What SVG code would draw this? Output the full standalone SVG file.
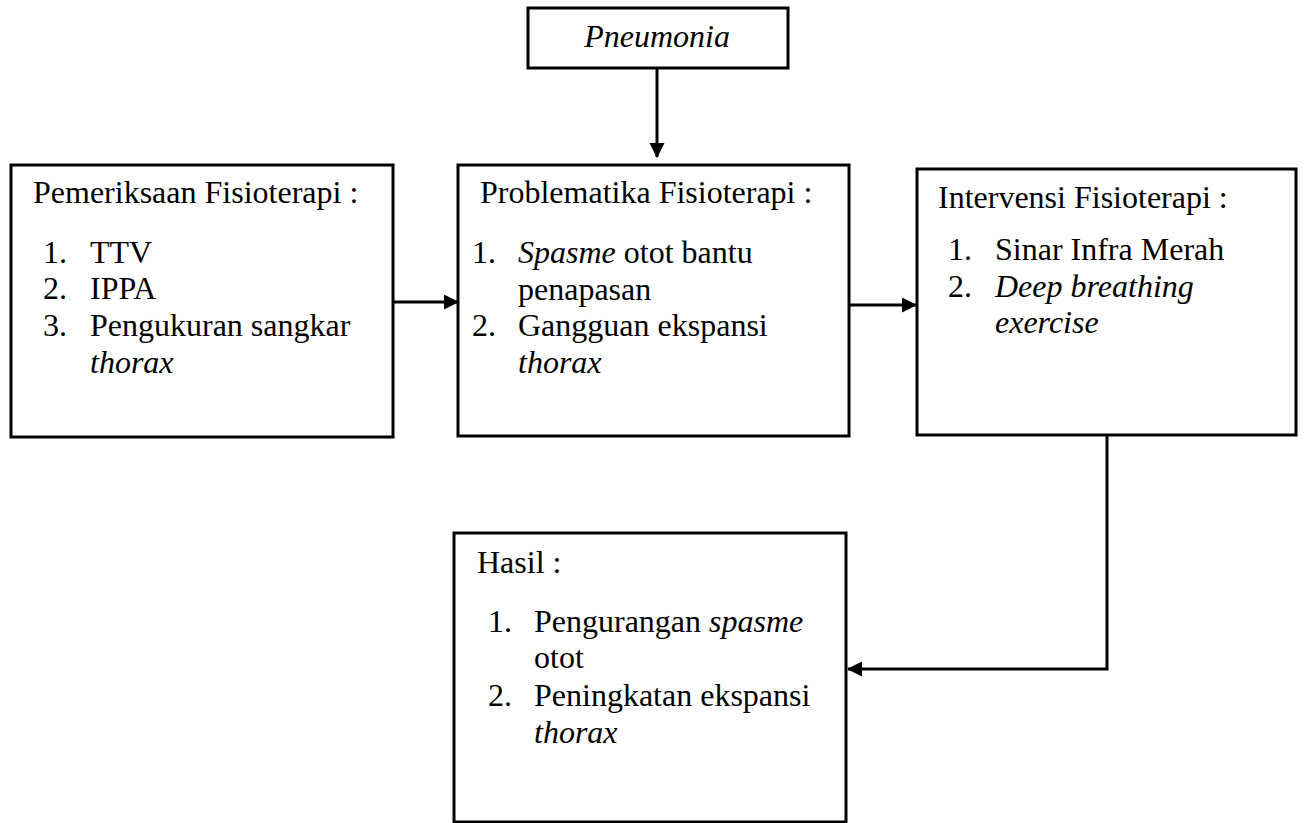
<svg xmlns="http://www.w3.org/2000/svg" width="1304" height="823" viewBox="0 0 1304 823">
<style>
.box{fill:#fff;stroke:#000;stroke-width:3}
.t{font-family:"Liberation Serif","Times New Roman",serif;font-size:32px;fill:#000}
.i{font-style:italic}
.c{fill:none;stroke:#000;stroke-width:3}
</style>
<defs>
<marker id="ah" markerUnits="userSpaceOnUse" markerWidth="16" markerHeight="16" refX="14" refY="7.5" orient="auto">
<path d="M0,0 L15,7.5 L0,15 Z" fill="#000"/>
</marker>
</defs>
<rect width="1304" height="823" fill="#fff"/>
<g id="connectors">
<line class="c" x1="657" y1="68" x2="657" y2="157" marker-end="url(#ah)"/>
<line class="c" x1="393" y1="302" x2="458" y2="302" marker-end="url(#ah)"/>
<line class="c" x1="849" y1="305" x2="916" y2="305" marker-end="url(#ah)"/>
<polyline class="c" points="1107,435 1107,669 848,669" marker-end="url(#ah)"/>
</g>
<g id="pneumonia">
<rect class="box" x="528" y="8" width="260" height="60"/>
<text class="t i" x="657" y="47" text-anchor="middle">Pneumonia</text>
</g>
<g id="pemeriksaan">
<rect class="box" x="11" y="165" width="382" height="272"/>
<text class="t" x="33" y="203">Pemeriksaan Fisioterapi :</text>
<text class="t" x="43" y="263">1.</text><text class="t" x="90" y="263">TTV</text>
<text class="t" x="43" y="299">2.</text><text class="t" x="90" y="299">IPPA</text>
<text class="t" x="43" y="336">3.</text><text class="t" x="90" y="336">Pengukuran sangkar</text>
<text class="t i" x="90" y="373">thorax</text>
</g>
<g id="problematika">
<rect class="box" x="458" y="165" width="391" height="271"/>
<text class="t" x="480" y="203">Problematika Fisioterapi :</text>
<text class="t" x="472" y="263">1.</text><text class="t" x="518" y="263"><tspan class="i">Spasme</tspan> otot bantu</text>
<text class="t" x="518" y="300">penapasan</text>
<text class="t" x="472" y="336">2.</text><text class="t" x="518" y="336">Gangguan ekspansi</text>
<text class="t i" x="518" y="373">thorax</text>
</g>
<g id="intervensi">
<rect class="box" x="917" y="169" width="379" height="266"/>
<text class="t" x="938" y="208">Intervensi Fisioterapi :</text>
<text class="t" x="948" y="260">1.</text><text class="t" x="995" y="260">Sinar Infra Merah</text>
<text class="t" x="948" y="297">2.</text><text class="t i" x="995" y="297">Deep breathing</text>
<text class="t i" x="995" y="333">exercise</text>
</g>
<g id="hasil">
<rect class="box" x="454" y="533" width="392" height="289"/>
<text class="t" x="477" y="573">Hasil :</text>
<text class="t" x="488" y="632">1.</text><text class="t" x="534" y="632">Pengurangan <tspan class="i">spasme</tspan></text>
<text class="t" x="534" y="668">otot</text>
<text class="t" x="488" y="706">2.</text><text class="t" x="534" y="706">Peningkatan ekspansi</text>
<text class="t i" x="534" y="743">thorax</text>
</g>
</svg>
